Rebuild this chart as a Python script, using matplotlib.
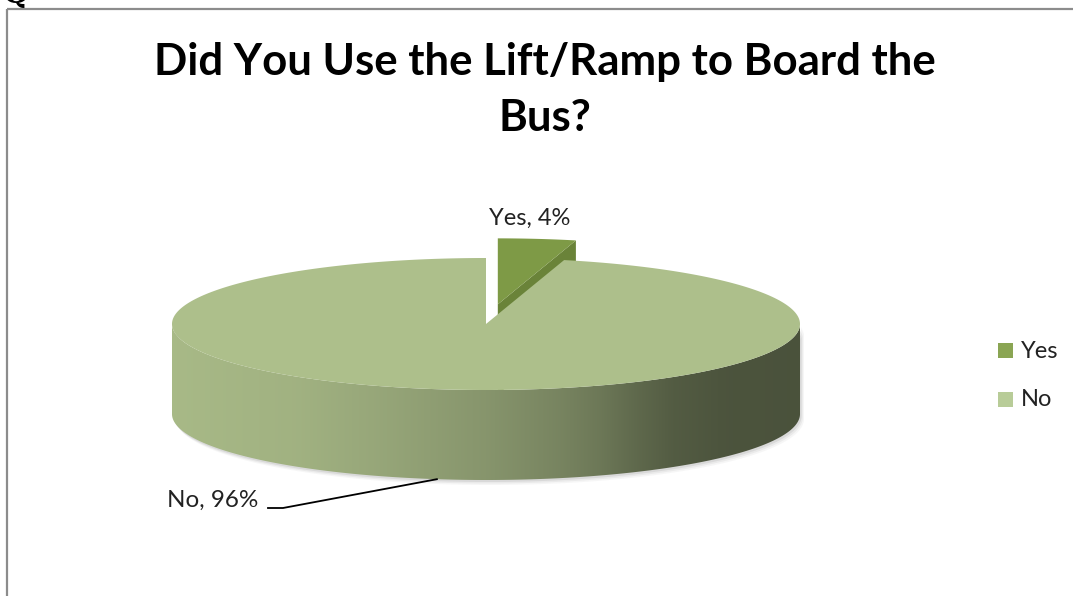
import numpy as np
import matplotlib.pyplot as plt
from matplotlib.patches import Polygon, Rectangle
from matplotlib.colors import to_rgb

# survey answers
labels = ['Yes', 'No']
shares = [4, 96]
explode = [0.3, 0.0]
top_colors = ['#7e9a46', '#adbf8b']
face_colors = ['#6a8339', '#8e9e6f']
legend_colors = ['#8aa553', '#b8cc98']
title = 'Did You Use the Lift/Ramp to Board the\nBus?'

plt.rcParams['font.family'] = ['Lato', 'DejaVu Sans']

fig = plt.figure(figsize=(10.73, 5.96), dpi=100)
ax = fig.add_axes([0, 0, 1, 1])
ax.set_xlim(0, 1073)
ax.set_ylim(596, 0)
ax.axis('off')

# pie geometry in pixels (3d look: ellipse + wall)
cx, cy, rx, ry, depth = 486, 324, 314, 66, 90


def pt(theta, dx=0, dy=0, dz=0):
    t = np.radians(theta)
    return cx + dx + rx * np.cos(t), cy + dy - ry * np.sin(t) + dz


# frame and the cut-off heading above it
ax.plot([7, 7], [596, 9], color='#8c8c8c', lw=1.6, solid_capstyle='butt')
ax.plot([7, 1073], [9, 9], color='#8c8c8c', lw=1.6, solid_capstyle='butt')
ax.text(3, 3, 'Q', fontsize=22, family='DejaVu Serif', fontweight='bold',
        va='baseline', ha='left')

lines = title.split('\n')
ax.text(545, 75, lines[0], ha='center', va='baseline', fontsize=31.5,
        fontweight='bold')
ax.text(545, 131, lines[1], ha='center', va='baseline', fontsize=31.5,
        fontweight='bold')

bounds = 90 - 360 * np.cumsum([0] + shares) / sum(shares)

# shading of the side wall, left to right
stops_t = [0.0, 0.2, 0.33, 0.5, 0.62, 0.68, 0.74, 0.8, 0.88, 1.0]
stops_f = [0.97, 0.93, 0.87, 0.78, 0.69, 0.63, 0.55, 0.48, 0.44, 0.43]

for i in range(len(shares)):
    a0, a1 = bounds[i], bounds[i + 1]
    mid = (a0 + a1) / 2
    dx = rx * explode[i] * np.cos(np.radians(mid))
    dy = -ry * explode[i] * np.sin(np.radians(mid))
    apex = (cx + dx, cy + dy)

    # radial cut faces
    for edge, visible in [(a1, np.cos(np.radians(a1)) > 1e-6),
                          (a0, np.cos(np.radians(a0)) < -1e-6)]:
        if visible:
            ox, oy = pt(edge, dx, dy)
            face = [apex, (ox, oy), (ox, oy + depth), (apex[0], apex[1] + depth)]
            ax.add_patch(Polygon(face, closed=True, fc=face_colors[i], ec='none'))

    # outer wall (front part only)
    th = np.linspace(a1, a0, 1500)
    front = th[np.sin(np.radians(th)) <= 0]
    if len(front) > 1:
        tx, ty = pt(front, dx, dy)
        bx, by = pt(front[::-1], dx, dy, depth)
        wall = np.column_stack([np.r_[tx, bx], np.r_[ty, by]])
        # soft shadow
        for k, a in [(5, 0.05), (3.5, 0.08), (2, 0.12)]:
            sh = wall + np.array([k * 0.8, k])
            ax.add_patch(Polygon(sh, closed=True, fc='#606060', ec='none',
                                 alpha=a))
        poly = Polygon(wall, closed=True, fc='none', ec='none')
        ax.add_patch(poly)
        base = np.array(to_rgb(top_colors[i]))
        t = np.linspace(0, 1, 600)
        f = np.interp(t, stops_t, stops_f)
        grad = np.clip(f[None, :, None] * base[None, None, :], 0, 1)
        im = ax.imshow(grad, extent=[cx + dx - rx, cx + dx + rx,
                                     cy + dy + ry + depth, cy + dy - ry],
                       aspect='auto', interpolation='bilinear', zorder=1)
        im.set_clip_path(poly)

    # top face
    arc = np.linspace(a0, a1, 600)
    ax_, ay_ = pt(arc, dx, dy)
    top = np.column_stack([np.r_[apex[0], ax_], np.r_[apex[1], ay_]])
    ax.add_patch(Polygon(top, closed=True, fc=top_colors[i], ec='none',
                         zorder=2))

# data labels
ax.text(530, 218, f'{labels[0]}, {shares[0]}%', ha='center', va='center',
        fontsize=17, color='#222222', zorder=5)
ax.text(213, 500, f'{labels[1]}, {shares[1]}%', ha='center', va='center',
        fontsize=17.5, color='#222222', zorder=5)
lx, ly = pt(-99, dz=depth)
ax.plot([268, 283, lx], [508, 508, ly], color='black', lw=1.3, zorder=5)

# legend
for i, (lab, col) in enumerate(zip(labels, legend_colors)):
    y = 351 + i * 49
    ax.add_patch(Rectangle((998, y - 8), 15, 15, fc=col, ec='none', zorder=5))
    ax.text(1021, y, lab, ha='left', va='center', fontsize=17,
            color='#222222', zorder=5)

fig.savefig('out.png', dpi=100)
